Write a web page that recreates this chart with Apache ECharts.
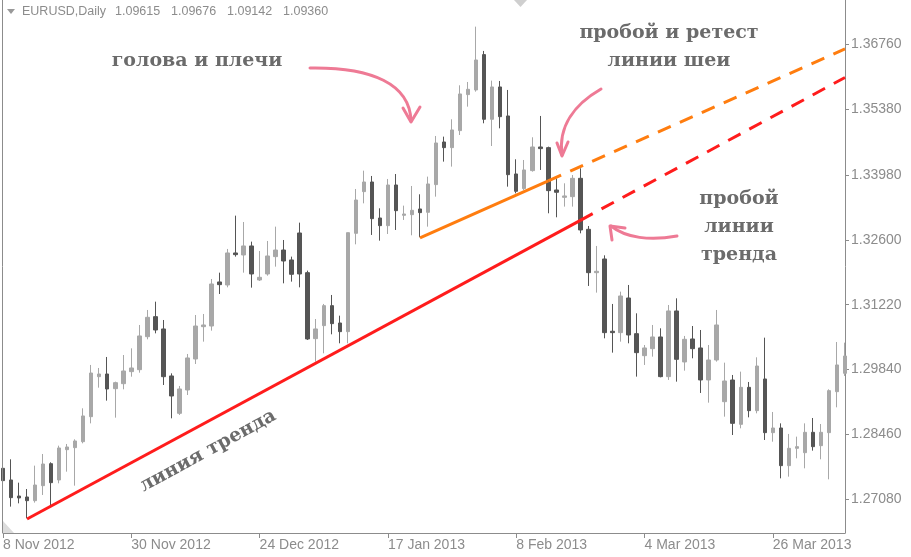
<!DOCTYPE html>
<html><head><meta charset="utf-8">
<script src="https://cdn.jsdelivr.net/npm/echarts@6/dist/echarts.min.js"></script>
<style>html,body{margin:0;padding:0;background:#fff}#c{width:911px;height:557px}</style>
</head><body><div id="c"></div>
<script>
// trading days by month
const daysNov2012 = [8,9,12,13,14,15,16,19,20,21,22,23,26,27,28,29,30];
const daysDec2012 = [3,4,5,6,7,10,11,12,13,14,17,18,19,20,21,24,26,27,28,31];
const daysJan2013 = [2,3,4,7,8,9,10,11,14,15,16,17,18,21,22,23,24,25,28,29,30,31];
const daysFeb2013 = [1,4,5,6,7,8,11,12,13,14,15,18,19,20,21,22,25,26,27,28];
const daysMar2013 = [1,4,5,6,7,8,11,12,13,14,15,18,19,20,21,22,25,26,27,28,29];
const daysApr2013 = [1,2,3,4,5,8];

const opens = [1.27739,1.27491,1.27150,1.27129,1.27051,1.27370,1.27838,1.27491,1.28136,1.28179,
1.28306,1.28838,1.29689,1.29746,1.29434,1.29540,1.29796,1.29838,1.30540,1.30966,
1.30704,1.29704,1.28909,1.29406,1.30065,1.30753,1.30767,1.31704,1.31640,1.32321,
1.32278,1.32470,1.31746,1.31874,1.32243,1.32384,1.32172,1.32746,1.31902,1.30498,
1.30775,1.31200,1.30831,1.30647,1.32739,1.33626,1.33831,1.33065,1.32902,1.33767,
1.33122,1.33136,1.33257,1.33186,1.33775,1.34682,1.34562,1.34924,1.35690,1.35789,
1.36541,1.35165,1.35853,1.35236,1.34002,1.33690,1.34073,1.34576,1.34562,1.33661,
1.33505,1.33519,1.33909,1.32824,1.31902,1.32193,1.30655,1.30626,1.31363,1.30604,
1.30136,1.30285,1.30534,1.29690,1.31087,1.30002,1.30491,1.30300,1.29619,1.30044,
1.29157,1.29618,1.28675,1.29462,1.28966,1.29640,1.28498,1.28597,1.27796,1.28165,
1.28072,1.28505,1.28221,1.28498,1.29370,1.29760];
const closes = [1.27477,1.27115,1.27108,1.27051,1.27384,1.27831,1.27434,1.28172,1.28193,1.28321,
1.28853,1.29767,1.29746,1.29427,1.29562,1.29810,1.29874,1.30555,1.30952,1.30682,
1.29689,1.29278,1.29427,1.30087,1.30767,1.30789,1.31661,1.31647,1.32321,1.32285,
1.32470,1.31874,1.31803,1.32257,1.32384,1.32150,1.31867,1.31874,1.30491,1.30704,
1.31200,1.30817,1.30647,1.32753,1.33448,1.33831,1.33051,1.32902,1.33767,1.33221,
1.33150,1.33228,1.33179,1.33789,1.34661,1.34562,1.34938,1.35704,1.35803,1.36427,
1.35165,1.35853,1.35221,1.33987,1.33633,1.34087,1.34576,1.34541,1.33647,1.33612,
1.33534,1.33909,1.32810,1.31902,1.31931,1.30626,1.30626,1.31406,1.30576,1.30200,
1.30300,1.30534,1.29690,1.31087,1.30058,1.30484,1.30285,1.29619,1.30044,1.30789,
1.29597,1.28696,1.29462,1.28966,1.29916,1.28498,1.28597,1.27796,1.28165,1.28200,
1.28505,1.28200,1.28505,1.29392,1.29938,1.30129];
const lows = [1.27207,1.26924,1.26994,1.26675,1.27009,1.27172,1.26959,1.27420,1.27668,1.27370,
1.28271,1.28696,1.29455,1.29179,1.28817,1.29420,1.29689,1.29774,1.30484,1.30611,
1.29512,1.28803,1.28874,1.29299,1.29959,1.30434,1.30668,1.31448,1.31590,1.32243,
1.31902,1.31583,1.31725,1.31838,1.32030,1.31675,1.31711,1.31590,1.30470,1.30009,
1.30186,1.30590,1.30399,1.30399,1.32505,1.33377,1.32704,1.32583,1.32725,1.32810,
1.33023,1.32697,1.32654,1.32881,1.33519,1.34264,1.34158,1.34831,1.35434,1.35753,
1.35080,1.34597,1.34973,1.33732,1.33590,1.33661,1.34051,1.34087,1.33165,1.33080,
1.33307,1.33307,1.32739,1.31619,1.31477,1.30505,1.30200,1.30434,1.30399,1.29690,
1.29938,1.30115,1.29675,1.29619,1.29583,1.29817,1.30080,1.29342,1.29136,1.30009,
1.28838,1.28448,1.28590,1.28824,1.28909,1.28342,1.28306,1.27526,1.27562,1.27952,
1.27739,1.28115,1.27931,1.27505,1.29037,1.29704];
const highs = [1.27824,1.27931,1.27434,1.27299,1.27796,1.28044,1.27867,1.28221,1.28257,1.28356,
1.29016,1.29938,1.29874,1.30108,1.29583,1.30150,1.30292,1.30789,1.31108,1.31285,
1.30895,1.29760,1.29491,1.30172,1.31001,1.31023,1.31767,1.31902,1.32406,1.33115,
1.32980,1.32562,1.32363,1.32576,1.32881,1.32597,1.32243,1.32966,1.31945,1.30916,
1.31236,1.31427,1.30987,1.32753,1.33682,1.34072,1.33959,1.33271,1.33895,1.34001,
1.33328,1.33746,1.33569,1.33945,1.34810,1.34796,1.35165,1.35888,1.35959,1.37136,
1.36619,1.35987,1.35980,1.35789,1.34314,1.34299,1.34782,1.35236,1.34583,1.33909,
1.33803,1.33980,1.34122,1.32895,1.32470,1.32271,1.31236,1.31498,1.31640,1.31037,
1.30363,1.30789,1.30718,1.31214,1.31356,1.30555,1.30767,1.30682,1.30363,1.31108,
1.29987,1.29725,1.29796,1.29576,1.30101,1.30519,1.28938,1.28696,1.28470,1.28413,
1.28696,1.28810,1.28682,1.29420,1.30427,1.30413];

const yTicks = [1.27080,1.28460,1.29840,1.31220,1.32600,1.33980,1.35380,1.36760];
const trendSolid = [[3,1.26661],[72,1.33015]];
const trendDashed = [[72,1.33015],[105,1.36054]];
const neckSolid = [[52,1.32642],[68,1.33855]];
const neckDashed = [[68,1.33855],[105,1.36661]];

const monthGroups = [['Nov','2012',daysNov2012],['Dec','2012',daysDec2012],['Jan','2013',daysJan2013],
  ['Feb','2013',daysFeb2013],['Mar','2013',daysMar2013],['Apr','2013',daysApr2013]];
const dates = [];
monthGroups.forEach(([m,y,ds]) => ds.forEach(d => dates.push(d + ' ' + m + ' ' + y)));
const candles = opens.map((o,i) => [o, closes[i], lows[i], highs[i]]);

const GRAY = '#8c8c8c';
const TXT = '#6b6b6b';
const PINK = '#ee7a95';
const serif = {fontFamily:'DejaVu Serif', fontWeight:'bold', fontSize:19, fill:TXT, textAlign:'center', textVerticalAlign:'middle'};
function label(text, x, y, rot){ return {type:'text', x:x, y:y, rotation:rot||0, z:20, style:Object.assign({text:text}, serif)}; }

const chart = echarts.init(document.getElementById('c'), null, {renderer:'canvas'});
chart.setOption({
  animation:false,
  backgroundColor:'#ffffff',
  grid:{left:3, right:66, top:0, bottom:24, show:false},
  xAxis:{type:'category', data:dates, boundaryGap:false,
    axisLine:{show:true, lineStyle:{color:GRAY, width:1}},
    axisTick:{show:true, interval:(i)=>i%16===0, length:5, lineStyle:{color:GRAY}},
    axisLabel:{interval:(i)=>i%16===0, align:'left', color:GRAY, fontFamily:'Liberation Sans', fontSize:14, margin:5},
    splitLine:{show:false}},
  yAxis:{type:'value', position:'right', min:1.26363, max:1.37703,
    axisLine:{show:true, lineStyle:{color:GRAY, width:1}},
    axisTick:{show:true, customValues:yTicks, length:4, lineStyle:{color:GRAY}},
    axisLabel:{customValues:yTicks, formatter:(v)=>v.toFixed(5), color:GRAY, fontFamily:'Liberation Sans', fontSize:14, margin:6},
    splitLine:{show:false}},
  series:[
    {type:'candlestick', data:candles, barWidth:4, silent:true, clip:true,
     itemStyle:{color:'#a8a8a8', color0:'#555555', borderColor:'#a8a8a8', borderColor0:'#555555', borderColorDoji:'#a8a8a8', borderWidth:1}},
    {type:'line', data:trendSolid, symbol:'none', silent:true, z:5, lineStyle:{color:'#ff1c1c', width:3}},
    {type:'line', data:trendDashed, symbol:'none', silent:true, z:5, lineStyle:{color:'#ff1c1c', width:3, type:[14,10]}},
    {type:'line', data:neckSolid, symbol:'none', silent:true, z:5, lineStyle:{color:'#ff7d0f', width:3}},
    {type:'line', data:neckDashed, symbol:'none', silent:true, z:5, lineStyle:{color:'#ff7d0f', width:3, type:[14,10]}}
  ],
  graphic:[
    {type:'line', shape:{x1:2.5,y1:0,x2:2.5,y2:533}, style:{stroke:GRAY, lineWidth:1}, z:10},
    {type:'polygon', shape:{points:[[3,521],[3,533],[14,533]]}, style:{fill:'#dcdcdc'}, z:10},
    {type:'polygon', shape:{points:[[514,0],[527,0],[520.5,7]]}, style:{fill:'#cfcfcf'}, z:10},
    {type:'polygon', shape:{points:[[7,9],[15,9],[11,14]]}, style:{fill:'#999999'}, z:10},
    {type:'text', x:22, y:12, z:10, style:{text:'EURUSD,Daily', fontFamily:'Liberation Sans', fontSize:12.5, fill:GRAY, textVerticalAlign:'middle'}},
    {type:'text', x:115, y:12, z:10, style:{text:'1.09615', fontFamily:'Liberation Sans', fontSize:12.5, fill:GRAY, textVerticalAlign:'middle'}},
    {type:'text', x:171, y:12, z:10, style:{text:'1.09676', fontFamily:'Liberation Sans', fontSize:12.5, fill:GRAY, textVerticalAlign:'middle'}},
    {type:'text', x:227, y:12, z:10, style:{text:'1.09142', fontFamily:'Liberation Sans', fontSize:12.5, fill:GRAY, textVerticalAlign:'middle'}},
    {type:'text', x:283, y:12, z:10, style:{text:'1.09360', fontFamily:'Liberation Sans', fontSize:12.5, fill:GRAY, textVerticalAlign:'middle'}},
    label('голова и плечи', 197, 61),
    label('пробой и ретест', 669, 33),
    label('линии шеи', 669, 61),
    label('пробой', 739, 199),
    label('линии', 739, 227),
    label('тренда', 739, 255),
    label('линия тренда', 208, 451, 0.5),
    {type:'bezierCurve', z:15, shape:{x1:310,y1:68,cpx1:372,cpy1:67,cpx2:410,cpy2:84,x2:411,y2:121}, style:{stroke:PINK, lineWidth:3, fill:null, lineCap:'round'}},
    {type:'polyline', z:15, shape:{points:[[403,108],[411,122],[420,107]]}, style:{stroke:PINK, lineWidth:3, fill:null, lineCap:'round', lineJoin:'round'}},
    {type:'bezierCurve', z:15, shape:{x1:601,y1:89,cpx1:575,cpy1:104,cpx2:558,cpy2:126,x2:562,y2:155}, style:{stroke:PINK, lineWidth:3, fill:null, lineCap:'round'}},
    {type:'polyline', z:15, shape:{points:[[557,143],[562,156],[568,142]]}, style:{stroke:PINK, lineWidth:3, fill:null, lineCap:'round', lineJoin:'round'}},
    {type:'bezierCurve', z:15, shape:{x1:677,y1:236,cpx1:650,cpy1:241,cpx2:626,cpy2:238,x2:611,y2:226}, style:{stroke:PINK, lineWidth:3, fill:null, lineCap:'round'}},
    {type:'polyline', z:15, shape:{points:[[612,240],[610,226],[625,228]]}, style:{stroke:PINK, lineWidth:3, fill:null, lineCap:'round', lineJoin:'round'}}
  ]
});
</script></body></html>
